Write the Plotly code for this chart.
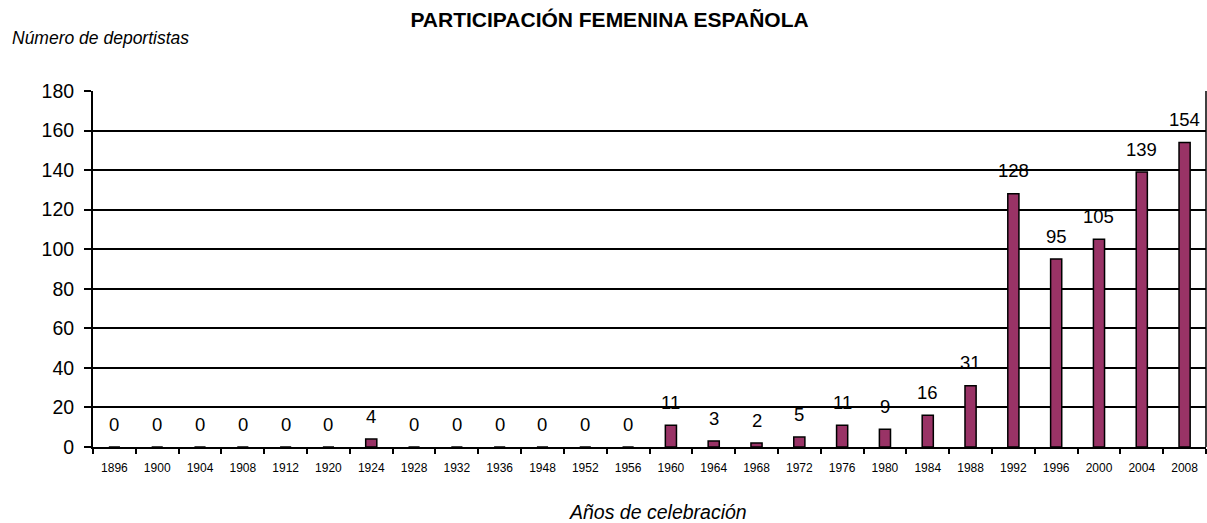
import plotly.graph_objects as go

years = ["1896", "1900", "1904", "1908", "1912", "1920", "1924", "1928", "1932", "1936",
         "1948", "1952", "1956", "1960", "1964", "1968", "1972", "1976", "1980", "1984",
         "1988", "1992", "1996", "2000", "2004", "2008"]
athletes = [0, 0, 0, 0, 0, 0, 4, 0, 0, 0, 0, 0, 0, 11, 3, 2, 5, 11, 9, 16, 31, 128, 95, 105, 139, 154]
y_ticks = [0, 20, 40, 60, 80, 100, 120, 140, 160, 180]

FONT = "Liberation Sans, Arial, Helvetica, sans-serif"

fig = go.Figure()
fig.add_trace(go.Bar(
    x=years, y=athletes,
    marker=dict(color="#993366", line=dict(color="black", width=1.5)),
    width=0.26,
    hoverinfo="x+y",
))

for i, v in enumerate(athletes):
    fig.add_annotation(x=i, y=v, text=str(v), showarrow=False,
                       yshift=23, yanchor="middle",
                       font=dict(family=FONT, size=18.5, color="black"))

fig.update_layout(
    width=1207, height=523,
    margin=dict(l=93, r=1, t=91, b=76, autoexpand=False),
    paper_bgcolor="white", plot_bgcolor="white",
    showlegend=False,
    font=dict(family=FONT, color="black"),
    title=dict(text="<b>PARTICIPACIÓN FEMENINA ESPAÑOLA</b>", x=0.505, xanchor="center",
               y=0.9618, yanchor="middle", font=dict(size=21)),
)
fig.add_annotation(xref="paper", yref="paper", x=-0.0746, y=1.149, xanchor="left", yanchor="middle",
                   text="<i>Número de deportistas</i>", showarrow=False, font=dict(size=17.5))
fig.add_annotation(xref="paper", yref="paper", x=0.5076, y=-0.1826, xanchor="center", yanchor="middle",
                   text="<i>Años de celebración</i>", showarrow=False, font=dict(size=19.5))

fig.update_xaxes(type="category", tickson="boundaries", ticks="outside", ticklen=5,
                 tickwidth=1.5, tickcolor="black", showline=True, linecolor="black", linewidth=2,
                 tickfont=dict(size=12), tickangle=0, showgrid=False, automargin=False,
                 ticklabelstandoff=9)
fig.update_yaxes(range=[0, 180], tickvals=y_ticks, ticks="outside", ticklen=7, tickwidth=1.5,
                 tickcolor="black", showline=True, linecolor="black", linewidth=2,
                 showgrid=True, gridcolor="black", gridwidth=1.5, zeroline=False,
                 tickfont=dict(size=19.5), automargin=False, ticklabelstandoff=6)
# right border
fig.add_shape(type="line", xref="paper", yref="paper", x0=1, x1=1, y0=0, y1=1,
              line=dict(color="black", width=1.5))

fig.write_html("out.html", config={"displayModeBar": False},
               post_script="document.body.style.margin='0';")
